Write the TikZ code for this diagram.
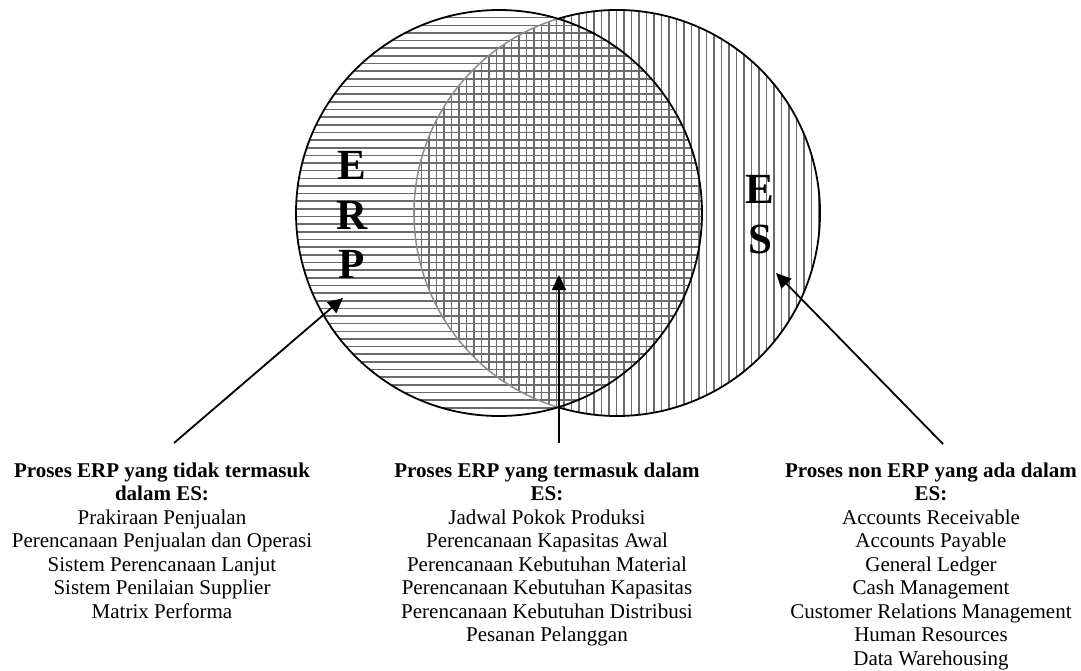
\documentclass[tikz,border=0pt]{standalone}
\usepackage{fontspec}
\setmainfont{Liberation Serif}
\usetikzlibrary{arrows.meta}
\begin{document}
\begin{tikzpicture}[x=1pt,y=-1pt,
  ring/.style={line width=1.8pt, black},
  innerring/.style={line width=1.5pt, black!45},
  hatch/.style={line width=1.6pt, black!58},
  pointer/.style={line width=1.8pt, -{Triangle[length=15pt,width=14pt]}},
  letter/.style={font=\fontsize{43}{49.5}\selectfont\bfseries, align=center, inner sep=0pt, anchor=north},
  caption/.style={font=\fontsize{21}{23.5}\selectfont, align=center, anchor=north, inner sep=0pt}]
\useasboundingbox (0,0) rectangle (1081,670);

% centres of the two sets
\coordinate (erpC) at (499,213);
\coordinate (esC) at (617,213);

% ES set: vertical hatching
\begin{scope}
  \clip (esC) circle[radius=203];
  \foreach \x in {414,421.5,...,822} \draw[hatch] (\x,0) -- (\x,420);
\end{scope}

% ERP set: horizontal hatching
\begin{scope}
  \clip (erpC) circle[radius=203];
  \foreach \y in {10,17.65,...,418} \draw[hatch] (290,\y) -- (710,\y);
\end{scope}

% outlines: the part of ES lying inside ERP is lighter
\draw[innerring] ([shift={(106.9:203)}]esC) arc[start angle=106.9, end angle=253.1, radius=203];
\draw[ring] ([shift={(-106.9:203)}]esC) arc[start angle=-106.9, end angle=106.9, radius=203];
\draw[ring] (erpC) circle[radius=203];

% set labels
\node[letter] (erpL) at (352,151.5) {E\\R\\P};
\node[letter] (esL) at (760,175.5) {E\\S};

% captions
\node[caption] (capA) at (162,462.5) {\textbf{Proses ERP yang tidak termasuk}\\\textbf{dalam ES:}\\Prakiraan Penjualan\\Perencanaan Penjualan dan Operasi\\Sistem Perencanaan Lanjut\\Sistem Penilaian Supplier\\Matrix Performa};
\node[caption] (capB) at (547,462.5) {\textbf{Proses ERP yang termasuk dalam}\\\textbf{ES:}\\Jadwal Pokok Produksi\\Perencanaan Kapasitas Awal\\Perencanaan Kebutuhan Material\\Perencanaan Kebutuhan Kapasitas\\Perencanaan Kebutuhan Distribusi\\Pesanan Pelanggan};
\node[caption] (capC) at (931,462.5) {\textbf{Proses non ERP yang ada dalam}\\\textbf{ES:}\\Accounts Receivable\\Accounts Payable\\General Ledger\\Cash Management\\Customer Relations Management\\Human Resources\\Data Warehousing};

% pointers from the captions into the regions
\coordinate (pA) at (174,443);  \coordinate (tA) at (343,298);
\coordinate (pB) at (559,443);  \coordinate (tB) at (559,275);
\coordinate (pC) at (943,444);  \coordinate (tC) at (776,273);
\draw[pointer] (pA) -- (tA);
\draw[pointer] (pB) -- (tB);
\draw[pointer] (pC) -- (tC);
\end{tikzpicture}
\end{document}
